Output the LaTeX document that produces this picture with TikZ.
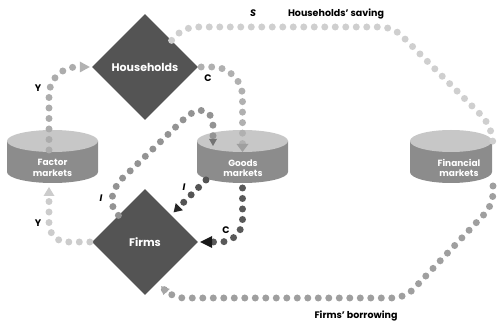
\documentclass[tikz,border=0pt]{standalone}
\usepackage{fontspec}
\setmainfont{Poppins}
\usetikzlibrary{shapes.geometric, arrows.meta, calc}

\definecolor{agentgrey}{gray}{0.33}
\definecolor{drumtop}{gray}{0.78}
\definecolor{drumside}{gray}{0.55}

\tikzset{%
  agent/.style={diamond, fill=agentgrey, text=white, minimum width=106pt, minimum height=106pt,
    inner sep=0pt, font=\bfseries\fontsize{11}{13}\selectfont},
  mkt/.style={text=white, align=center, inner sep=0pt, font=\bfseries\fontsize{9}{10.5}\selectfont},
  lbl/.style={font=\bfseries\fontsize{9.5}{11}\selectfont},
  flow/.style={line width=7pt, line cap=round, dash pattern=on 0pt off 10.5pt, rounded corners=#1},
  flow/.default=20pt,
  arrowtip/.style n args={3}{-{Triangle[length=#1, width=#2, line width=0pt, color=#3]}}
}

% cylinder of a market: name, centre x, x radius
\newcommand{\drum}[3]{%
  \fill[drumside] (#2-#3,185) -- (#2-#3,154) arc[start angle=180, end angle=360, x radius=#3, y radius=11]
    -- (#2+#3,185) -- cycle;
  \fill[drumtop] (#2,185) ellipse[x radius=#3, y radius=11];
  \coordinate (#1-top) at (#2,196);
  \coordinate (#1-bot) at (#2,143);
}

\begin{document}
\begin{tikzpicture}[x=1pt, y=1pt]
  \useasboundingbox (0,0) rectangle (499,326);

  \drum{factor}{52.5}{45.5}
  \drum{goods}{242.5}{45.5}
  \drum{fin}{451}{41}
  \node[mkt] (factor) at (52.5,158) {Factor\\markets};
  \node[mkt] (goods) at (243,158) {Goods\\markets};
  \node[mkt] (fin) at (459,158) {Financial\\markets};

  \node[agent] (hh) at (145,259) {Households};
  \node[agent] (firms) at (145,84) {Firms};

  % households' side
  \draw[flow=28pt, draw=gray!65, arrowtip={10pt}{11pt}{gray!60}]
    ([shift={(-3.5pt,-20pt)}]factor-top) |- ([xshift=-2pt]hh.west);
  \draw[flow=30pt, draw=gray!62, arrowtip={8pt}{12pt}{gray!75}]
    ([xshift=3pt]hh.east) -| ([yshift=-22pt]goods-top);
  \draw[flow=12pt, draw=gray!38]
    (hh.north east) -- (184,299) -- (393,299) -- (490,202) -- ([shift={(42pt,-13pt)}]fin-top);

  % firms' side
  \draw[flow=0pt, draw=gray!85, arrowtip={7pt}{8pt}{gray!110}]
    (firms.north west) .. controls (108,120) and (110,138) .. (127,152) -- (184,207)
    .. controls (200,222) and (213,216) .. (213,200) -- ([shift={(-29.5pt,-16pt)}]goods-top);
  \draw[flow=0pt, draw=agentgrey, arrowtip={8pt}{10pt}{black!85}]
    ([shift={(-36.5pt,3pt)}]goods-bot) -- ([shift={(2pt,3pt)}]firms.north east);
  \draw[flow=22pt, draw=black!65, arrowtip={12pt}{12pt}{black!90}]
    ([yshift=-5pt]goods-bot) |- ([xshift=2pt]firms.east);
  \draw[flow=18pt, draw=gray!40, arrowtip={9pt}{11pt}{gray!40}]
    ([xshift=-2pt]firms.west) -| ([shift={(-3.5pt,-4pt)}]factor-bot);
  \draw[flow=12pt, draw=gray!75, arrowtip={8pt}{9pt}{gray!70}]
    ([shift={(42pt,-3pt)}]fin-bot) -- (493,121) -- (405,28) -- (172,28) -- ([shift={(-10.5pt,-17.5pt)}]firms.south east);

  % labels
  \node[lbl] (ytop) at (38,238) {Y};
  \node[lbl] (ctop) at (208,248) {C};
  \node[lbl] (s) at (253,313) {\itshape S};
  \node[lbl] (saving) at (336,312) {Households' saving};
  \node[lbl] (itop) at (101,128) {\itshape I};
  \node[lbl] (ibot) at (184,139) {\itshape I};
  \node[lbl] (cbot) at (226,96) {C};
  \node[lbl] (ybot) at (38,103) {Y};
  \node[lbl] (borrow) at (356,10) {Firms' borrowing};
\end{tikzpicture}
\end{document}
